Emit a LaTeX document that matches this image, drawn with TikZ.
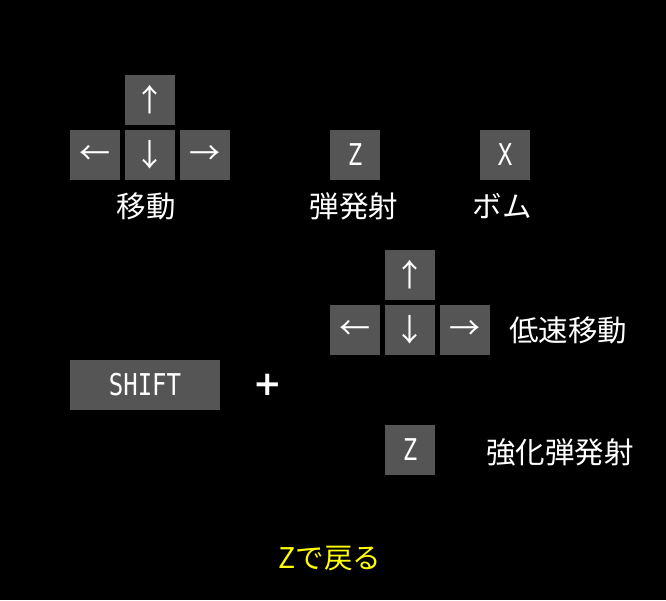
\documentclass[tikz,border=0pt]{standalone}
\usepackage{fontspec}
\newfontfamily\jpfont{Noto Sans CJK JP}
\newfontfamily\keyfont[FakeStretch=0.8]{DejaVu Sans Mono}
\newfontfamily\plusfont{DejaVu Sans}
\definecolor{keygray}{HTML}{555555}
\definecolor{backyellow}{HTML}{FFFF00}
\tikzset{
  keybox/.style={fill=keygray, text=white, minimum width=50pt, minimum height=50pt, inner sep=0pt},
  arrowkey/.style={keybox, font=\jpfont\fontsize{31}{31}\selectfont},
  letterkey/.style={keybox, font=\keyfont\fontsize{30}{30}\selectfont},
  label/.style={text=white, inner sep=0pt, font=\jpfont\fontsize{29.5}{29.5}\selectfont},
}
\begin{document}
\begin{tikzpicture}[x=1pt,y=-1pt]
\fill[black] (0,0) rectangle (666,600);
\useasboundingbox (0,0) rectangle (666,600);
% group 1: move
\node[arrowkey] (up1) at (150,100) {↑};
\node[arrowkey] (left1) at (95,155) {←};
\node[arrowkey] (down1) at (150,155) {↓};
\node[arrowkey] (right1) at (205,155) {→};
\node[label] (move) at (146,206) {移動};
% shot and bomb
\node[letterkey] (zkey1) at (355,155) {Z};
\node[letterkey] (xkey) at (505,155) {X};
\node[label] (shot) at (354,206) {弾発射};
\node[label] (bomb) at (502,206) {ボム};
% group 2: slow move
\node[arrowkey] (up2) at (410,275) {↑};
\node[arrowkey] (left2) at (355,330) {←};
\node[arrowkey] (down2) at (410,330) {↓};
\node[arrowkey] (right2) at (465,330) {→};
\node[label, anchor=west] (slow) at (509,330) {低速移動};
\node[letterkey] (zkey2) at (410,450) {Z};
\node[label, anchor=west] (power) at (486,452) {強化弾発射};
% shift
\node[keybox, minimum width=150pt, font=\keyfont\fontsize{30}{30}\selectfont] (shift) at (145,385) {SHIFT};
\node[text=white, inner sep=0pt, font=\plusfont\bfseries\fontsize{34}{34}\selectfont] (plus) at (268,385) {+};
% back
\node[text=backyellow, inner sep=0pt, font=\jpfont\fontsize{28.5}{28.5}\selectfont] (back) at (330,558) {Zで戻る};
\end{tikzpicture}
\end{document}
